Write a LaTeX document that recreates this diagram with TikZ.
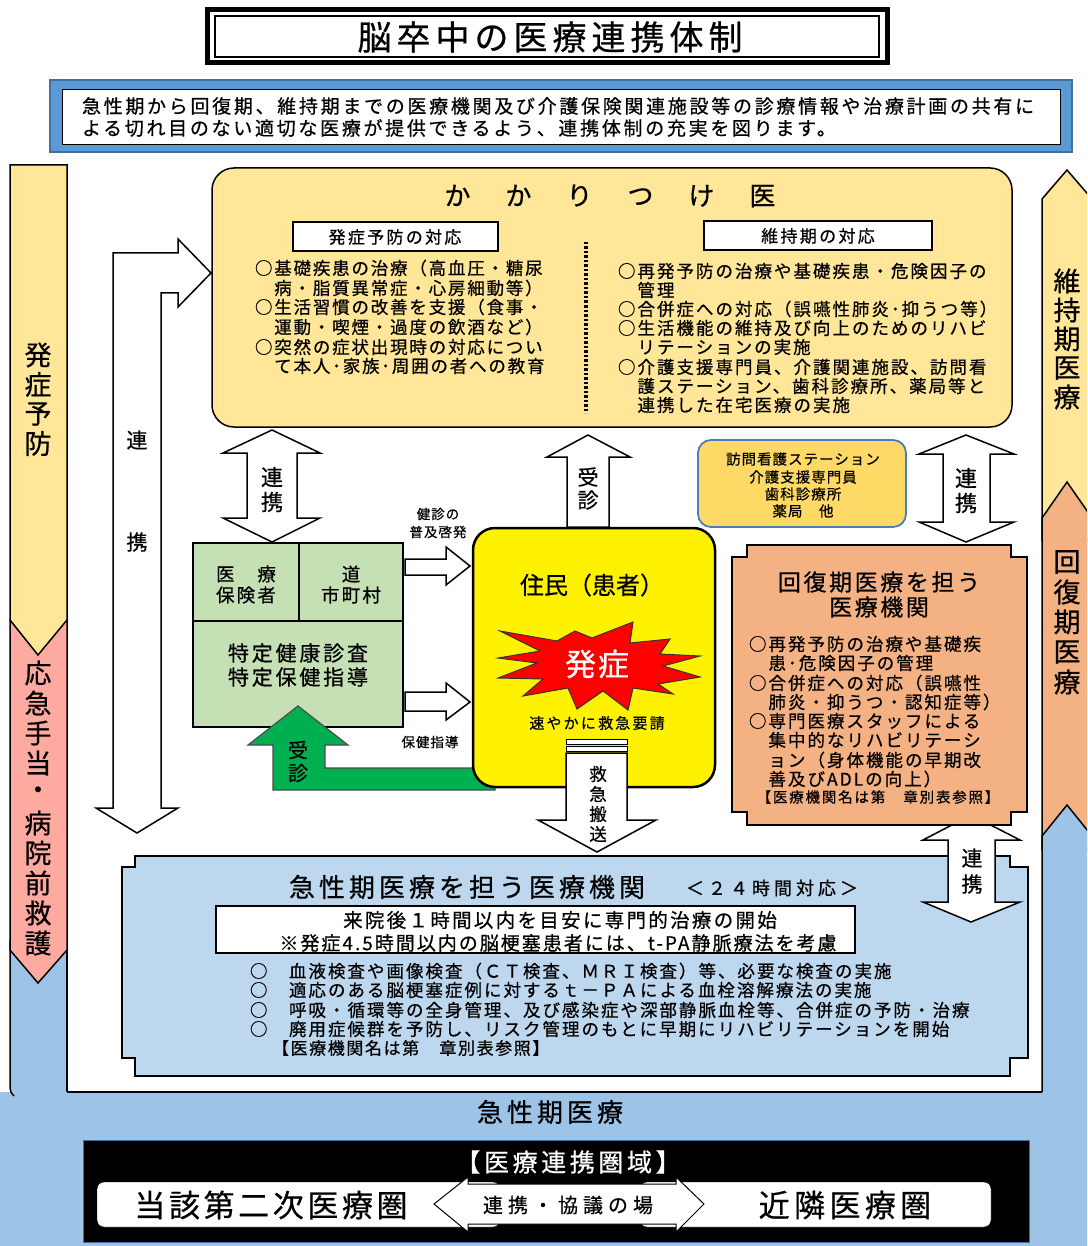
\documentclass[tikz,border=0pt]{standalone}
\usepackage{fontspec}
\setmainfont{Noto Sans CJK JP}[FakeBold=0.6]
\newcommand\jfont[2]{\fontsize{#1}{#1}\selectfont\pgfmathsetmacro\jls{(#2/#1-1)*100}\edef\jtmp{\noexpand\addfontfeature{LetterSpace=\jls}}\jtmp}
\definecolor{cyel}{HTML}{FFE699}
\definecolor{cpink}{HTML}{FFAAA0}
\definecolor{cora}{HTML}{F4B183}
\definecolor{cblu}{HTML}{9DC3E6}
\definecolor{clblu}{HTML}{BDD7EE}
\definecolor{cgrn}{HTML}{C5E0B4}
\definecolor{cgarr}{HTML}{00B050}
\definecolor{cvis}{HTML}{FFD966}
\definecolor{cvisb}{HTML}{4A7EBB}
\definecolor{cintro}{HTML}{5B9BD5}
\definecolor{cintrob}{HTML}{41719C}
\begin{document}
\begin{tikzpicture}[x=1pt,y=-1pt,line join=miter,
  t/.style={inner sep=0pt,outer sep=0pt},
  blk/.style={draw=black,line width=1.5pt},
  warrow/.style={fill=white,draw=black,line width=1.5pt},
  colarrow/.style={draw=black,line width=1.5pt},
]
\useasboundingbox (0,0) rectangle (1087,1246);
\clip (0,0) rectangle (1087,1246);
\fill[white] (0,0) rectangle (1087,1246);

% ---------- background columns ----------
\fill[cblu] (-5,1092) rectangle (1100,1260);
\draw[line width=1.5pt] (67,1092) -- (1042,1092);
% right column
\draw[colarrow,fill=cyel] (1042,540) -- (1042,199) -- (1067,170) -- (1092,199) -- (1092,540) -- cycle;
\draw[colarrow,fill=cora] (1042,850) -- (1042,518) -- (1067,482) -- (1092,518) -- (1092,850) -- cycle;
\fill[cblu] (1042,1093) -- (1042,836) -- (1067,805) -- (1092,836) -- (1092,1093) -- cycle;
\draw[line width=1.5pt] (1042,1092) -- (1042,836) -- (1067,805) -- (1092,836);
% left column
\fill[cblu] (10,940) rectangle (67,1093);
\draw[line width=1.5pt] (10,940) -- (10,1088) to[out=-90,in=135] (14,1096);
\draw[line width=1.5pt] (67,940) -- (67,1092);
\draw[colarrow,fill=cpink] (10,620) -- (10,950) -- (38,983) -- (67,950) -- (67,620) -- cycle;
\draw[colarrow,fill=cyel] (10,165) -- (10,620) -- (38,655) -- (67,620) -- (67,165) -- cycle;

\foreach \c [count=\i from 0] in {発,症,予,防}
  \node[t,font=\jfont{27}{27}] (hy\i) at (38,355+\i*29.5) {\c};
\foreach \c [count=\i from 0] in {応,急,手,当,・,病,院,前,救,護}
  \node[t,font=\jfont{27}{27}] (ok\i) at (38,673+\i*30) {\c};
\foreach \c [count=\i from 0] in {維,持,期,医,療}
  \node[t,font=\jfont{27}{27}] (ij\i) at (1067,281+\i*29) {\c};
\foreach \c [count=\i from 0] in {回,復,期,医,療}
  \node[t,font=\jfont{27}{27}] (kf\i) at (1067,562+\i*30) {\c};

% ---------- title ----------
\draw[line width=5pt] (207,10) rectangle (887,63);
\draw[line width=1.2pt] (215,16) rectangle (879,57);
\node[t,font=\jfont{34}{39}] (title) at (550,37) {脳卒中の医療連携体制};

% ---------- intro ----------
\draw[draw=cintrob,line width=1.5pt,fill=cintro] (50,80) rectangle (1072,152);
\draw[fill=white,line width=0.8pt] (62,89) rectangle (1060,144);
\node[t,font=\jfont{19}{21.7},anchor=west] (in1) at (82,106) {急性期から回復期、維持期までの医療機関及び介護保険関連施設等の診療情報や治療計画の共有に};
\node[t,font=\jfont{19}{21.7},anchor=west] (in2) at (82,128) {よる切れ目のない適切な医療が提供できるよう、連携体制の充実を図ります。};

% ---------- kakaritsuke-i ----------
\draw[blk,fill=cyel,rounded corners=22pt] (212,168) rectangle (1012,427);
\node[t,font=\jfont{26}{26}] (kk) at (610,196) {か\hspace{35pt}か\hspace{35pt}り\hspace{35pt}つ\hspace{35pt}け\hspace{35pt}医};
\draw[fill=white,line width=1.2pt] (293,222) rectangle (498,251);
\node[t,font=\jfont{17}{19.3}] (hy) at (395,237) {発症予防の対応};
\draw[fill=white,line width=1.2pt] (704,221) rectangle (932,250);
\node[t,font=\jfont{17}{19.3}] (ij) at (818,236) {維持期の対応};
\draw[line width=4pt,dash pattern=on 2.5pt off 2pt] (586,242) -- (586,413);
\begin{scope}[every node/.style={t,font=\jfont{17.5}{19.3},anchor=west}]
\node (kl1) at (255,268) {○基礎疾患の治療（高血圧・糖尿};
\node (kl2) at (255,288) {　病・脂質異常症・心房細動等）};
\node (kl3) at (255,307) {○生活習慣の改善を支援（食事・};
\node (kl4) at (255,327) {　運動・喫煙・過度の飲酒など）};
\node (kl5) at (255,347) {○突然の症状出現時の対応につい};
\node (kl6) at (255,366) {　て本人･家族･周囲の者への教育};
\end{scope}
\begin{scope}[every node/.style={t,font=\jfont{17.5}{19.5},anchor=west}]
\node (kr1) at (618,271) {○再発予防の治療や基礎疾患・危険因子の};
\node (kr2) at (618,290) {　管理};
\node (kr3) at (618,309) {○合併症への対応（誤嚥性肺炎･抑うつ等）};
\node (kr4) at (618,328) {○生活機能の維持及び向上のためのリハビ};
\node (kr5) at (618,347) {　リテーションの実施};
\node (kr6) at (618,367) {○介護支援専門員、介護関連施設、訪問看};
\node (kr7) at (618,386) {　護ステーション、歯科診療所、薬局等と};
\node (kr8) at (618,405) {　連携した在宅医療の実施};
\end{scope}

% ---------- left L arrow ----------
\draw[warrow] (113,253) -- (178,253) -- (178,239) -- (211,273) -- (178,307) -- (178,293) -- (161,293) -- (161,808) -- (178,808) -- (137,833) -- (96,808) -- (113,808) -- cycle;
\node[t,font=\jfont{21}{21}] (lr1) at (137,440) {連};
\node[t,font=\jfont{21}{21}] (lr2) at (137,542) {携};

% ---------- double arrows ----------
\draw[warrow] (272,430) -- (320,453) -- (297,453) -- (297,518) -- (320,518) -- (272,542) -- (223,518) -- (247,518) -- (247,453) -- (223,453) -- cycle;
\node[t,font=\jfont{22}{22}] (da1) at (272,477) {連};
\node[t,font=\jfont{22}{22}] (da2) at (272,502) {携};
\draw[warrow] (966,435) -- (1014,454) -- (990,454) -- (990,522) -- (1014,522) -- (966,542) -- (919,522) -- (943,522) -- (943,454) -- (919,454) -- cycle;
\node[t,font=\jfont{22}{22}] (db1) at (966,478) {連};
\node[t,font=\jfont{22}{22}] (db2) at (966,503) {携};

% ---------- green box ----------
\draw[blk,fill=cgrn] (193,543) rectangle (403,727);
\draw[line width=1.5pt] (193,621) -- (403,621);
\draw[line width=1.5pt] (299,543) -- (299,621);
\node[t,font=\jfont{18.5}{20.7}] (g1) at (246,574) {医　療};
\node[t,font=\jfont{18.5}{20.7}] (g2) at (246,595) {保険者};
\node[t,font=\jfont{18.5}{20.7}] (g3) at (351,574) {道};
\node[t,font=\jfont{18.5}{20.7}] (g4) at (351,595) {市町村};
\node[t,font=\jfont{21}{23.8}] (g5) at (298,653) {特定健康診査};
\node[t,font=\jfont{21}{23.8}] (g6) at (298,677) {特定保健指導};

% small arrows
\draw[warrow] (405,559) -- (446,559) -- (446,547) -- (470,566) -- (446,585) -- (446,575) -- (405,575) -- cycle;
\draw[warrow] (405,692) -- (446,692) -- (446,683) -- (470,702) -- (446,720) -- (446,711) -- (405,711) -- cycle;
\node[t,font=\jfont{13.5}{14.5}] (s1) at (438,514) {健診の};
\node[t,font=\jfont{13.5}{14.5}] (s2) at (438,532) {普及啓発};
\node[t,font=\jfont{13.5}{14.5}] (s3) at (430,742) {保健指導};

% green L arrow
\draw[draw=black!70,line width=1.2pt,fill=cgarr] (298,706) -- (348,745) -- (325,745) -- (325,768) -- (495,768) -- (495,790) -- (273,790) -- (273,745) -- (248,745) -- cycle;
\node[t,font=\jfont{20}{20}] (ga1) at (298,750) {受};
\node[t,font=\jfont{20}{20}] (ga2) at (298,773) {診};

% ---------- resident box ----------
\draw[draw=black,line width=2.5pt,fill=yellow,rounded corners=22pt] (473,528) rectangle (715,787);
\node[t,font=\jfont{24}{24}] (jm) at (592,585) {住民（患者）};
\draw[draw=black!80,line width=1pt,fill=red] (500,631) -- (557,641) -- (575,631) -- (592,638) -- (633,622) -- (630,643) -- (670,639) -- (660,654) -- (700,656) -- (663,666) -- (700,677) -- (658,684) -- (673,694) -- (633,688) -- (628,710) -- (603,691) -- (577,709) -- (568,688) -- (523,696) -- (543,679) -- (498,678) -- (537,663) -- (498,658) -- (540,651) -- cycle;
\node[t,font=\jfont{31}{33},text=white] (hs) at (597,664) {発症};
\node[t,font=\jfont{15}{17.2}] (ky) at (597,723) {速やかに救急要請};

% up arrow 受診
\draw[warrow] (588,435) -- (630,457) -- (609,457) -- (609,527) -- (567,527) -- (567,457) -- (547,457) -- cycle;
\node[t,font=\jfont{21}{21}] (uj1) at (588,477) {受};
\node[t,font=\jfont{21}{21}] (uj2) at (588,500) {診};

% down arrow 救急搬送
\draw[fill=white,line width=1pt] (566,739) rectangle (627,744);
\draw[fill=white,line width=1pt] (566,746) rectangle (627,751);
\draw[warrow] (566,753) -- (627,753) -- (627,820) -- (656,820) -- (597,852) -- (538,820) -- (566,820) -- cycle;
\foreach \c [count=\i from 0] in {救,急,搬,送}
  \node[t,font=\jfont{17.5}{17.5}] (kq\i) at (598,774+\i*20) {\c};

% ---------- visiting box ----------
\draw[draw=cvisb,line width=1.8pt,fill=cvis,rounded corners=13pt] (698,440) rectangle (906,527);
\node[t,font=\jfont{14.5}{15.5}] (v1) at (803,459) {訪問看護ステーション};
\node[t,font=\jfont{14.5}{15.5}] (v2) at (803,477) {介護支援専門員};
\node[t,font=\jfont{14.5}{15.5}] (v3) at (803,494) {歯科診療所};
\node[t,font=\jfont{14.5}{15.5}] (v4) at (803,511) {薬局　他};

% ---------- acute box ----------
\draw[blk,fill=clblu] (135,856) -- (1010,856) -- (1010,867) -- (1028,867) -- (1028,1058) -- (1010,1058) -- (1010,1076) -- (135,1076) -- (135,1058) -- (122,1058) -- (122,867) -- (135,867) -- cycle;
\node[t,font=\jfont{26}{30}] (ac) at (467,887) {急性期医療を担う医療機関};
\node[t,font=\jfont{18}{22}] (a24) at (772,888) {＜２４時間対応＞};
\draw[fill=white,line width=1.2pt] (216,906) rectangle (855,953);
\node[t,font=\jfont{19.5}{21.8}] (w1) at (560,920) {来院後１時間以内を目安に専門的治療の開始};
\node[t,font=\jfont{19}{21}] (w2) at (558,943) {※発症4.5時間以内の脳梗塞患者には、t-PA静脈療法を考慮};
\begin{scope}[every node/.style={t,font=\jfont{17.5}{19.5},anchor=west}]
\node (am1) at (250,971) {○};
\node (am2) at (250,990) {○};
\node (am3) at (250,1010) {○};
\node (am4) at (250,1029) {○};
\node (at1) at (289,971) {血液検査や画像検査（ＣＴ検査、ＭＲＩ検査）等、必要な検査の実施};
\node (at2) at (289,990) {適応のある脳梗塞症例に対するｔ－ＰＡによる血栓溶解療法の実施};
\node (at3) at (289,1010) {呼吸・循環等の全身管理、及び感染症や深部静脈血栓等、合併症の予防・治療};
\node (at4) at (289,1029) {廃用症候群を予防し、リスク管理のもとに早期にリハビリテーションを開始};
\end{scope}
\node[t,font=\jfont{17}{18.6},anchor=west] (at5) at (272,1048) {【医療機関名は第　章別表参照】};

% lower right double arrow
\draw[warrow] (971,815) -- (1020,840) -- (995,840) -- (995,902) -- (1020,902) -- (971,922) -- (923,902) -- (948,902) -- (948,840) -- (923,840) -- cycle;
\node[t,font=\jfont{21}{21}] (dc1) at (972,858) {連};
\node[t,font=\jfont{21}{21}] (dc2) at (972,884) {携};

% ---------- recovery box ----------
\draw[blk,fill=cora] (747,545) -- (1011,545) -- (1011,557) -- (1027,557) -- (1027,812) -- (1011,812) -- (1011,825) -- (747,825) -- (747,812) -- (732,812) -- (732,557) -- (747,557) -- cycle;
\node[t,font=\jfont{23}{25.6}] (r1) at (879,582) {回復期医療を担う};
\node[t,font=\jfont{23}{25.6}] (r2) at (879,607) {医療機関};
\begin{scope}[every node/.style={t,font=\jfont{17.5}{19.5},anchor=west}]
\node (rl1) at (749,644) {○再発予防の治療や基礎疾};
\node (rl2) at (749,663) {　患･危険因子の管理};
\node (rl3) at (749,683) {○合併症への対応（誤嚥性};
\node (rl4) at (749,702) {　肺炎・抑うつ・認知症等）};
\node (rl5) at (749,721) {○専門医療スタッフによる};
\node (rl6) at (749,740) {　集中的なリハビリテーシ};
\node (rl7) at (749,760) {　ョン（身体機能の早期改};
\node (rl8) at (749,779) {　善及びADLの向上）};
\end{scope}
\node[t,font=\jfont{14.5}{16.3}] (rl9) at (878,797) {【医療機関名は第　章別表参照】};

% ---------- bottom ----------
\node[t,font=\jfont{26}{30}] (kseki) at (550,1112) {急性期医療};
\draw[fill=black,draw=cintrob,line width=1pt] (83,1140) rectangle (1029,1242);
\node[t,font=\jfont{25}{28.6},text=white] (ken) at (568,1162) {【医療連携圏域】};
\draw[fill=white,rounded corners=7pt] (97,1182) rectangle (500,1227);
\draw[fill=white,rounded corners=7pt] (640,1182) rectangle (991,1227);
\draw[fill=white,draw=black,line width=1pt] (434,1204) -- (468,1177) -- (468,1184) -- (676,1184) -- (676,1177) -- (704,1204) -- (676,1232) -- (676,1224) -- (468,1224) -- (468,1232) -- cycle;
\node[t,font=\jfont{31}{34.6}] (b1) at (271,1205) {当該第二次医療圏};
\node[t,font=\jfont{31}{35.4}] (b2) at (845,1205) {近隣医療圏};
\node[t,font=\jfont{20}{25}] (b3) at (568,1205) {連携・協議の場};
\end{tikzpicture}
\end{document}
